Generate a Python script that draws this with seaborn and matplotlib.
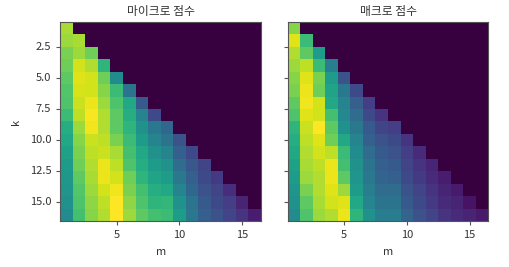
import numpy as np
import pandas as pd
import matplotlib
matplotlib.use("Agg")
import matplotlib.pyplot as plt
import seaborn as sns

sns.set_style("ticks")
plt.rcParams['font.family'] = ['Noto Sans CJK KR', 'DejaVu Sans']

titles = ["마이크로 점수", "매크로 점수"]
x_label = "m"
y_label = "k"
x_ticks = [5, 10, 15]
y_ticks = [2.5, 5.0, 7.5, 10.0, 12.5, 15.0]
m_values = list(range(1, 17))
k_values = list(range(1, 17))

# row k contains scores for m = 1..k (normalised 0..1)
micro_rows = [
    [0.87],
    [0.85, 0.87],
    [0.80, 0.85, 0.78],
    [0.78, 0.93, 0.88, 0.65],
    [0.75, 0.95, 0.93, 0.78, 0.48],
    [0.73, 0.94, 0.93, 0.82, 0.68, 0.38],
    [0.72, 0.92, 0.97, 0.85, 0.72, 0.60, 0.28],
    [0.68, 0.90, 0.99, 0.88, 0.75, 0.62, 0.45, 0.22],
    [0.62, 0.85, 0.98, 0.88, 0.75, 0.65, 0.50, 0.40, 0.33],
    [0.60, 0.82, 0.92, 0.90, 0.80, 0.68, 0.55, 0.45, 0.38, 0.25],
    [0.57, 0.80, 0.90, 0.92, 0.87, 0.70, 0.60, 0.50, 0.45, 0.30, 0.22],
    [0.55, 0.78, 0.88, 0.97, 0.90, 0.72, 0.62, 0.55, 0.50, 0.35, 0.27, 0.20],
    [0.53, 0.75, 0.87, 0.97, 0.93, 0.78, 0.65, 0.58, 0.55, 0.40, 0.30, 0.22, 0.17],
    [0.52, 0.73, 0.85, 0.93, 0.98, 0.80, 0.70, 0.62, 0.60, 0.45, 0.33, 0.25, 0.20, 0.13],
    [0.50, 0.72, 0.83, 0.90, 1.00, 0.83, 0.72, 0.65, 0.66, 0.50, 0.38, 0.28, 0.22, 0.18, 0.10],
    [0.48, 0.70, 0.82, 0.88, 1.00, 0.85, 0.75, 0.70, 0.68, 0.55, 0.40, 0.30, 0.25, 0.20, 0.15, 0.08],
]

macro_rows = [
    [0.82],
    [0.95, 0.68],
    [0.88, 0.75, 0.55],
    [0.85, 0.90, 0.68, 0.42],
    [0.82, 0.95, 0.80, 0.55, 0.25],
    [0.80, 0.97, 0.78, 0.58, 0.40, 0.22],
    [0.75, 0.98, 0.93, 0.60, 0.45, 0.30, 0.18],
    [0.72, 0.95, 0.93, 0.70, 0.47, 0.35, 0.22, 0.15],
    [0.65, 0.92, 1.00, 0.75, 0.50, 0.40, 0.28, 0.20, 0.18],
    [0.62, 0.90, 0.95, 0.78, 0.60, 0.45, 0.30, 0.25, 0.22, 0.15],
    [0.60, 0.88, 0.93, 0.90, 0.68, 0.48, 0.35, 0.28, 0.25, 0.18, 0.12],
    [0.57, 0.87, 0.90, 0.97, 0.70, 0.50, 0.38, 0.30, 0.28, 0.20, 0.15, 0.10],
    [0.55, 0.85, 0.88, 0.97, 0.75, 0.52, 0.40, 0.32, 0.30, 0.22, 0.17, 0.12, 0.08],
    [0.52, 0.80, 0.88, 0.95, 0.85, 0.55, 0.42, 0.35, 0.35, 0.25, 0.20, 0.15, 0.10, 0.07],
    [0.50, 0.75, 0.87, 0.93, 0.95, 0.60, 0.45, 0.38, 0.38, 0.28, 0.22, 0.17, 0.12, 0.10, 0.05],
    [0.48, 0.72, 0.85, 0.88, 0.97, 0.65, 0.50, 0.42, 0.42, 0.32, 0.25, 0.20, 0.15, 0.12, 0.10, 0.07],
]


def to_frame(rows):
    mat = np.full((len(k_values), len(m_values)), np.nan)
    for i, row in enumerate(rows):
        mat[i, :len(row)] = row
    return pd.DataFrame(mat, index=k_values, columns=m_values)


fig = plt.figure(figsize=(5.09, 2.67), dpi=100)
ax1 = fig.add_axes([0.1185, 0.1723, 0.3943, 0.7453])
ax2 = fig.add_axes([0.5652, 0.1723, 0.3943, 0.7453])

fs = 8
txt = "#333333"
for ax, rows, title in zip([ax1, ax2], [micro_rows, macro_rows], titles):
    df = to_frame(rows)
    ax.set_facecolor("#37003f")
    sns.heatmap(df, ax=ax, cmap="viridis", vmin=0, vmax=1, cbar=False,
                mask=df.isna(), linewidths=0)
    for s in ax.spines.values():
        s.set_visible(True)
        s.set_color("#555555")
        s.set_linewidth(0.8)
    # heatmap cell for value v sits at v - 0.5 in data coordinates
    ax.set_xticks([m - 0.5 for m in x_ticks])
    ax.set_xticklabels([str(m) for m in x_ticks], rotation=0, fontsize=fs, color=txt)
    ax.set_yticks([k - 0.5 for k in y_ticks])
    ax.tick_params(axis="both", length=3, width=0.8, color="#555555")
    ax.set_title(title, fontsize=8.5, color=txt, pad=5)
    ax.set_xlabel(x_label, fontsize=fs, color=txt, labelpad=5)

ax1.set_yticklabels([f"{k:.1f}" for k in y_ticks], rotation=0, fontsize=fs, color=txt)
ax1.set_ylabel(y_label, fontsize=fs, color=txt, labelpad=6)
ax2.set_yticklabels([])
ax2.set_ylabel("")

fig.savefig("out.png", dpi=100)
